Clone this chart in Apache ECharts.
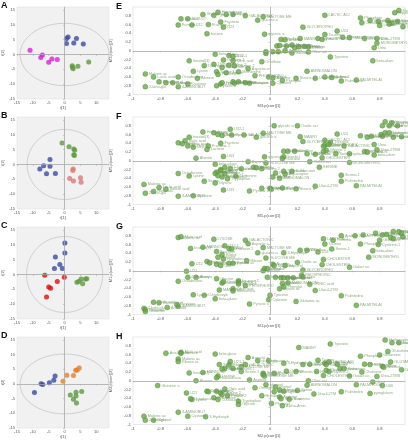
<!DOCTYPE html>
<html><head><meta charset="utf-8">
<script src="https://cdn.jsdelivr.net/npm/echarts@6/dist/echarts.min.js"></script>
<style>html,body{margin:0;padding:0;background:#fff}#c{width:408px;height:440px}</style>
</head><body><div id="c"></div>
<script>
// ---- Score plots (t[1], t[2]) ----
const aMagenta = [[-10.9,1.4],[-7.0,-0.2],[-7.5,-1.0],[-4.0,-1.5],[-5.0,-2.6],[-2.3,-1.7]];
const aBlue = [[1.1,5.9],[0.6,5.4],[3.75,5.4],[0.6,3.7],[2.9,3.9],[5.9,3.5]];
const aGreen = [[2.4,-3.8],[2.5,-4.3],[2.7,-4.8],[4.2,-4.0],[7.6,-2.5]];
const bGreen = [[-0.8,7.2],[1.4,6.0],[2.9,5.2],[3.2,4.8],[2.9,3.3],[3.1,3.0]];
const bBlue = [[-4.6,1.7],[-6.6,-0.4],[-4.6,-0.6],[-7.8,-1.5],[-5.7,-3.1],[-2.9,-3.0]];
const bPink = [[2.7,-1.5],[2.6,-2.0],[1.6,-4.7],[2.8,-5.6],[5.0,-4.5],[5.2,-6.0]];
const cBlue = [[0.1,10.6],[0.1,7.2],[-2.9,5.9],[-1.5,3.4],[-3.2,2.0],[-0.7,2.0]];
const cRed = [[-6.25,-0.3],[-0.1,-0.9],[-2.3,-2.4],[-5.0,-4.2],[-4.4,-4.6],[-5.7,-7.6]];
const cGreen = [[3.9,-2.6],[4.5,-2.4],[5.2,-1.5],[6.6,-1.5],[7.0,-1.4],[5.7,-3.1]];
const dBlue = [[-9.5,-2.9],[-7.4,0.1],[-6.9,-0.2],[-4.8,0.4],[-3.4,1.3],[-3.0,2.7]];
const dOrange = [[-0.5,0.9],[0.7,3.0],[2.8,2.9],[3.5,4.7],[4.0,4.8],[4.6,5.4]];
const dGreen = [[1.8,-3.8],[3.6,-2.8],[5.4,-2.6],[3.6,-4.1],[2.8,-5.2],[3.75,-6.5]];
// Hotelling T2 ellipse semi-axes (t[1], t[2])
const ellipseRx = [14, 11.8, 12, 14];
const ellipseRy = [10.5, 11.8, 12.8, 10.2];

// ---- Loading plots: [p(corr)[1], p(corr)[2], name] ----
const eLoadings = [
[-0.49,0.83,'Glycolic a'],[-0.38,0.88,'Heptadecan'],[-0.41,0.81,'Pyruvic ac'],[-0.32,0.83,'Ribitol'],[-0.27,0.83,'Xylitol'],
[-0.18,0.80,'GALACTONIC'],[-0.05,0.78,'MALTOSE ME'],[0.40,0.81,'LACTIC ACI'],[0.94,0.92,'Margaric'],[0.91,0.87,'Hippuric'],
[-0.65,0.73,'Succinic'],[-0.60,0.73,'SCYLLO'],[-0.09,0.70,'glucose a'],[0.66,0.75,'Phosphate'],[0.73,0.69,'Glutamine'],
[0.67,0.64,'Creatinine'],[0.79,0.67,'Cysteine-1'],[0.86,0.69,'Glutamine 1'],[0.93,0.67,'Stearine'],[0.89,0.63,'Proline'],
[0.97,0.55,'Valine'],[0.80,0.58,'Leucine'],[0.87,0.61,'Isoleucine'],[-0.36,0.66,'Fructose'],[-0.45,0.60,'Fructose 2'],
[-0.67,0.59,'Fumaric'],[-0.57,0.59,'U12'],[-0.34,0.54,'U23'],[0.24,0.54,'GLYCEROPHO'],[-0.46,0.39,'lactose'],
[-0.04,0.38,'glyceric a'],[0.40,0.37,'Taurine'],[0.49,0.45,'U24'],[0.53,0.31,'Threonic'],[0.58,0.30,'GALACTINIC'],
[0.69,0.28,'MYO-INOS'],[0.78,0.28,'Urea-2TMS'],[0.35,0.28,'Glycine 3'],[0.38,0.26,'PHOSPHORIC'],[0.22,0.28,'MANNY'],
[0.08,0.26,'Citrulline'],[0.11,0.25,'Arabitol'],[0.78,0.17,'MONOMETHYL'],[0.76,0.07,'Urea'],[0.05,0.11,'Aconitic'],
[0.07,0.12,'GLUCOSE ME'],[0.12,0.11,'Oxalic ac'],[0.16,0.13,'Mannose'],[0.18,0.07,'CHOLESTERI'],[0.21,0.09,'Galact ac'],
[0.25,0.10,'Ribose'],[0.28,0.09,'Hexose'],[0.06,-0.02,'Glucose'],[0.11,0.0,'Sorbitol'],[0.16,-0.05,'Inositol'],
[-0.03,-0.02,'glycerol'],[-0.03,-0.06,'Serine'],[0.02,-0.02,'Aspartic'],[0.28,-0.03,'Oleic aci'],[0.44,-0.14,'Tyrosine'],
[0.75,-0.23,'beta-alani'],[-0.40,-0.08,'beta-gluco'],[-0.30,-0.11,'U21-1'],[-0.27,-0.13,'U32-1'],[-0.59,-0.23,'Inositol(3)'],
[-0.34,-0.21,'Glucose 2'],[-0.27,-0.23,'Citric acid'],[-0.48,-0.34,'D-Hydroxy'],[-0.41,-0.31,'Threonine'],[-0.30,-0.33,'Valine 2'],
[-0.26,-0.34,'Leucine 2'],[-0.06,-0.25,'Ornithine'],[-0.35,-0.38,'Phosphate 2'],[-0.16,-0.41,'Aspartic a'],[-0.56,-0.47,'Lysine'],
[-0.39,-0.48,'Serine 1'],[-0.32,-0.50,'Glycine'],[-0.38,-0.54,'Proline 2'],[-0.23,-0.48,'Methionine'],[-0.91,-0.53,'Malonic ac'],
[-0.85,-0.60,'Lactic acid'],[-0.67,-0.60,'Octadecano'],[-0.53,-0.63,'Alanine'],[-0.81,-0.71,'Ribose acid'],[-0.76,-0.73,'Malic acid'],
[-0.71,-0.73,'Nonanoic'],[-0.91,-0.82,'2-keto-glu'],[-0.67,-0.82,'4-AMINOBUT'],[-0.60,-0.76,'Cysteine'],[-0.39,-0.80,'Pyruvic a'],
[-0.36,-0.76,'U33'],[-0.35,-0.73,'Tryptophan'],[-0.27,-0.71,'Histidine'],[-0.23,-0.71,'Arginine'],[-0.18,-0.73,'Asparagine'],
[-0.15,-0.74,'Glutarate'],[-0.26,-0.74,'Putrescine'],[-0.11,-0.57,'PHOSPHORO'],[-0.01,-0.60,'Glycerol'],[0.02,-0.62,'Adenine'],
[0.02,-0.74,'Cytosine'],[0.09,-0.68,'Phenylal'],[0.19,-0.63,'Stearic ac'],[0.33,-0.63,'Uracil-2TM'],[0.40,-0.60,'Alpha-Amin'],
[0.45,-0.61,'Serine-1'],[0.52,-0.69,'Palmitoleic'],[0.63,-0.67,'PALMITELAI'],[0.27,-0.47,'AMINOMALON']
];
const fLoadings = [
[0.84,0.89,'Hydroxypro'],[0.89,0.87,'Stearine'],[0.93,0.80,'Proline'],[0.87,0.80,'Valine'],[0.82,0.80,'Glutamine'],
[0.03,0.80,'glycolic a'],[0.20,0.80,'Oxalic aci'],[-0.29,0.72,'U32-1'],[-0.49,0.66,'Heptadecan'],[-0.41,0.64,'Ribitol'],
[-0.38,0.60,'Xylitol'],[-0.35,0.58,'Succinic'],[-0.28,0.59,'Pyruvic ac'],[-0.19,0.59,'GALACTONIC'],[-0.10,0.54,'glucose a'],
[-0.05,0.63,'MALTOSE ME'],[-0.59,0.54,'Inositol(3)'],[0.22,0.55,'MANNY'],[0.24,0.44,'GLYCEROPHO'],[0.40,0.47,'LACTIC ACI'],
[0.49,0.61,'U24'],[0.44,0.42,'Threonic'],[0.66,0.57,'Phosphate'],[0.71,0.54,'Creatinine'],[0.74,0.56,'Cysteine-1'],
[0.81,0.60,'Leucine'],[0.84,0.64,'Glutamine 1'],[0.87,0.64,'Isoleucine'],[0.82,0.56,'Margaric'],[0.90,0.54,'Hippuric'],
[0.96,0.55,'Glycine 3'],[-0.62,0.46,'Malic acid'],[-0.67,0.41,'Fumaric'],[-0.64,0.39,'Aspartic acid'],[-0.60,0.34,'SCYLLO'],
[-0.56,0.31,'U12'],[-0.45,0.34,'Fructose 2'],[-0.46,0.26,'Lactose'],[-0.36,0.40,'Fructose'],[0.40,0.36,'Taurine'],
[0.39,0.33,'Arabitol'],[0.43,0.37,'PHOSPHORIC'],[0.54,0.34,'GALACTINIC'],[0.76,0.37,'Urea'],[0.78,0.25,'Urea-2TMS'],
[0.69,0.21,'MYO-INOS'],[0.71,0.20,'Ribonic'],[0.58,0.16,'galacti ac'],[0.76,0.13,'beta-alani'],[0.10,0.22,'Aconitic'],
[0.13,0.22,'Mannose'],[0.18,0.22,'Citrulline'],[0.41,0.24,'Glycine 2'],[0.39,0.21,'Hexose'],[0.27,0.16,'MANNITOL'],
[0.33,0.15,'Ribose'],[0.48,0.16,'Sorbitol'],[-0.34,0.10,'U03'],[-0.54,0.06,'Alanine'],[-0.04,0.09,'glycerol'],
[0.10,0.09,'Inositol'],[0.09,0.05,'Glucose'],[-0.16,-0.02,'Aspartic'],[-0.03,-0.05,'GLUCOSE ME'],[0.29,-0.02,'OLEIC aci'],
[0.58,-0.04,'MONOMETHYL'],[0.38,0.07,'CHOLESTERI'],[-0.40,-0.08,'beta-gluco'],[-0.33,-0.15,'U21-1'],[-0.36,-0.20,'Glucose 2'],
[-0.36,-0.23,'Valine 2'],[-0.39,-0.26,'Leucine 2'],[-0.40,-0.29,'Methionine'],[-0.33,-0.29,'Proline 2'],[-0.29,-0.18,'Citric acid'],
[-0.21,-0.18,'Ornithine'],[-0.12,-0.15,'Histidine'],[-0.10,-0.16,'Arginine'],[-0.06,-0.18,'Serine 2'],[0.36,-0.15,'SERINE'],
[-0.67,-0.29,'Octadecano'],[-0.59,-0.35,'Lysine'],[-0.38,-0.34,'D-Hydroxy'],[-0.35,-0.37,'Phosphate 2'],[-0.31,-0.41,'Tryptophan'],
[-0.25,-0.35,'Threonine'],[0.02,-0.37,'Adenine'],[0.04,-0.28,'Phenylal'],[0.10,-0.24,'Putrescine'],[0.11,-0.30,'Asparagine'],
[0.16,-0.24,'D-Glucuron'],[0.07,-0.40,'AMINOMALON'],[0.52,-0.33,'Serine-1'],[-0.48,-0.47,'Serine'],[-0.40,-0.51,'Glycine'],
[-0.92,-0.54,'Malonic ac'],[0.52,-0.47,'Palmitoleic'],[0.63,-0.57,'PALMITELAI'],[-0.81,-0.61,'Lactic acid'],[-0.76,-0.65,'Ribose acid'],
[-0.85,-0.70,'Nonanoic'],[-0.91,-0.74,'2-keto-glu'],[-0.67,-0.81,'4-AMINOBUT'],[-0.56,-0.80,'Cysteine'],[-0.34,-0.67,'U33'],
[-0.15,-0.69,'Pyruvic a'],[-0.06,-0.63,'Glutarate'],[0.0,-0.63,'Cytosine'],[0.01,-0.65,'Alpha-Amin'],[0.09,-0.62,'Glycerol'],
[0.19,-0.64,'Stearic a'],[0.33,-0.58,'Uracil-2TM']
];
const gLoadings = [
[-0.67,0.76,'Malonic ac'],[-0.65,0.78,'Malic acid'],[-0.41,0.72,'LYXOSE'],[-0.18,0.70,'GALACTONIC'],[-0.16,0.62,'Aspartic a'],
[-0.05,0.53,'MALTOSE ME'],[-0.58,0.51,'Inositol(3)'],[-0.49,0.54,'MANNOSE'],[-0.39,0.44,'Fructose'],[-0.33,0.57,'U32-1'],
[-0.30,0.51,'Xylitol'],[-0.28,0.50,'Fructose 2'],[-0.35,0.37,'Ribitol'],[-0.38,0.31,'Succinic'],[-0.34,0.27,'Heptadecan'],
[-0.09,0.41,'glucose a'],[0.10,0.41,'3-Hydroxyb'],[0.22,0.47,'MANNY'],[0.27,0.47,'Citrulline'],[0.35,0.43,'U24'],
[0.45,0.50,'Serine-1'],[0.39,0.73,'LACTIC ACI'],[0.46,0.70,'Threonic'],[0.52,0.80,'Arabitol'],[0.62,0.80,'GALACTINIC'],
[0.68,0.82,'Creatinine'],[0.77,0.86,'Leucine'],[0.82,0.82,'Isoleucine'],[0.85,0.83,'Valine'],[0.90,0.90,'Hippuric'],
[0.94,0.89,'Margaric'],[0.88,0.76,'Proline'],[0.90,0.73,'Glutamine 1'],[0.97,0.78,'Stearine'],[0.96,0.86,'Hydroxypro'],
[0.80,0.70,'Glutamine'],[0.66,0.61,'Phosphate'],[0.79,0.60,'Cysteine-1'],[0.40,0.61,'Taurine'],[0.75,0.46,'beta-alani'],
[0.72,0.31,'MONOMETHYL'],[-0.57,0.16,'U12'],[-0.46,0.21,'Fumaric'],[-0.44,0.18,'Lactose'],[-0.39,0.15,'SCYLLO'],
[-0.36,0.12,'U23'],[-0.30,0.17,'Glycolic a'],[-0.27,0.17,'Pyruvic ac'],[-0.17,0.23,'Ribose'],[-0.03,0.29,'GLUCOSE ME'],
[0.02,0.15,'Aconitic'],[0.03,0.12,'Mannose'],[0.11,0.12,'Glycerol'],[0.20,0.19,'Oxalic ac'],[0.39,0.26,'CHOLESTER'],
[0.38,0.14,'CHOLESTERI'],[-0.61,-0.01,'U21'],[-0.05,0.0,'glycerol'],[-0.04,0.05,'Sorbitol'],[-0.02,0.05,'Glucose'],
[0.58,0.08,'Galact ac'],[0.24,0.02,'GLYCEROPHO'],[-0.60,-0.15,'D-Hydroxy'],[-0.54,-0.15,'Alanine'],[-0.67,-0.24,'Octadecano'],
[-0.39,-0.18,'Glycine'],[-0.35,-0.28,'Valine 2'],[-0.34,-0.25,'Ornithine'],[-0.23,-0.23,'Leucine 2'],[-0.23,-0.26,'Serine 1'],
[-0.23,-0.30,'Histidine'],[-0.02,-0.15,'Inositol'],[0.04,-0.15,'Hexose'],[0.08,-0.16,'Glucose 2'],[0.10,-0.16,'Arginine'],
[0.13,-0.16,'Asparagine'],[0.17,-0.16,'Oleic aci'],[0.23,-0.10,'PHOSPHORIC'],[0.24,-0.14,'Urea'],[-0.37,-0.44,'MANNITOL'],
[-0.27,-0.41,'Citric acid'],[-0.27,-0.46,'Methionine'],[-0.18,-0.34,'PHOSPHORO'],[0.09,-0.29,'Adenine'],[0.10,-0.37,'Phenylal'],
[0.07,-0.41,'Stearic ac'],[0.13,-0.28,'AMINOMALON'],[0.29,-0.31,'ORNIC acid'],[0.33,-0.45,'Uracil-2TM'],[-0.56,-0.55,'Lysine'],
[-0.48,-0.56,'O-hydroxyb'],[-0.40,-0.64,'beta-gluco'],[0.0,-0.56,'Tyrosine'],[-0.01,-0.66,'Cytosine'],[0.19,-0.70,'Glutamic ac'],
[0.52,-0.57,'Palmitoleic'],[-0.15,-0.76,'Pyruvic a'],[-0.85,-0.72,'Lactic acid'],[-0.81,-0.73,'Ribose acid'],[-0.75,-0.84,'Arachidic'],
[-0.67,-0.81,'4-AMINOBUT'],[-0.68,-0.77,'Cysteine'],[-0.92,-0.86,'2-keto-glu'],[-0.91,-0.89,'Nonanoic'],[-0.91,-0.93,'Glutarate'],
[0.63,-0.79,'PALMITELAI']
];
const hLoadings = [
[0.84,0.93,'Hydroxypro'],[0.89,0.87,'Hippuric'],[0.94,0.87,'Margaric'],[0.44,0.84,'Tyrosine'],[0.21,0.76,'MANNY'],
[-0.76,0.63,'Arachidonic'],[-0.65,0.65,'Malic acid'],[-0.65,0.63,'Fumaric'],[-0.67,0.50,'Malonic ac'],[-0.67,0.44,'Ribose ac'],
[-0.40,0.61,'keto-gluco'],[-0.16,0.53,'Aspartic a'],[-0.29,0.44,'U21-1'],[-0.09,0.46,'glucose a'],[-0.01,0.46,'glyceric a'],
[0.66,0.56,'Phosphate'],[0.80,0.59,'Glutamine'],[0.86,0.67,'Glutamine 1'],[0.88,0.43,'GLUTAMINE'],[-0.37,0.37,'Xylitol'],
[-0.30,0.36,'Ribitol'],[-0.18,0.37,'GALACTONIC'],[-0.21,0.32,'MALTOSE ME'],[0.10,0.40,'3-Hydroxyb'],[0.24,0.37,'Citrulline'],
[0.29,0.38,'MANNITOL'],[0.35,0.47,'Taurine'],[0.43,0.43,'LACTIC ACI'],[0.49,0.38,'U24'],[0.51,0.28,'Threonic'],
[0.40,0.40,'PHOSPHORIC'],[0.41,0.37,'Creatinine'],[0.69,0.38,'Leucine'],[0.73,0.37,'Isoleucine'],[0.82,0.33,'Valine'],
[0.96,0.25,'Glycine 3'],[0.83,0.31,'Arabitol'],[-0.33,0.28,'Succinic'],[-0.35,0.27,'Fructose'],[-0.27,0.28,'Fructose 2'],
[-0.21,0.21,'Serine 1'],[-0.59,0.18,'Inositol(3)'],[-0.49,0.19,'MANNOSE'],[-0.38,0.11,'Lactose'],[-0.05,0.17,'Sorbitol'],
[-0.05,0.14,'Glucose'],[-0.04,0.11,'GLUCOSE ME'],[0.03,0.17,'Mannose'],[0.12,0.22,'Oxalic a'],[0.19,0.21,'Aconitic ac'],
[0.34,0.21,'Hexose'],[0.41,0.24,'Ribose'],[0.43,0.21,'Glycine 2'],[0.54,0.28,'Galactonic'],[0.67,0.20,'Cholester'],
[0.39,0.12,'CHOLESTERI'],[0.58,0.11,'Galact ac'],[0.78,0.10,'Urea-2TMS'],[-0.54,0.0,'Alanine'],[-0.39,0.07,'Heptadecan'],
[-0.15,0.02,'Aspartic'],[0.28,0.0,'Oleic aci'],[0.75,-0.03,'Urea'],[0.82,-0.11,'U06'],[-0.82,-0.11,'Glutamic a'],
[-0.03,-0.09,'glycerol'],[0.04,-0.14,'Inositol'],[0.07,-0.21,'Adenine'],[0.10,-0.24,'Putrescine'],[0.03,-0.25,'Asparagine'],
[0.20,-0.22,'Serine'],[0.27,-0.10,'AMINOMALON'],[0.63,-0.09,'PALMITOLEI'],[-0.33,-0.19,'Oleic acid'],[-0.11,-0.16,'Ornithine'],
[-0.46,-0.24,'D-Hydroxy'],[-0.45,-0.25,'Threonine 2'],[-0.39,-0.24,'Valine 2'],[-0.36,-0.28,'Leucine 2'],[-0.35,-0.32,'Methionine'],
[-0.31,-0.34,'Proline 2'],[-0.61,-0.28,'U21'],[0.32,-0.30,'Uracil-2TM'],[0.52,-0.25,'Palmitoleic'],[0.73,-0.29,'pyroglutam'],
[-0.06,-0.34,'Histidine'],[0.07,-0.37,'Arginine'],[0.08,-0.41,'Stearic ac'],[0.14,-0.42,'Threonine'],[0.01,-0.52,'Phenylal'],
[0.09,-0.57,'Alpha-Amin'],[-0.57,-0.43,'Lysine'],[-0.58,-0.41,'Octadecano'],[-0.41,-0.39,'Phosphate 2'],[-0.38,-0.43,'O-Glucose'],
[-0.23,-0.47,'Tryptophan'],[-0.23,-0.54,'Glycine'],[-0.67,-0.72,'4-AMINOBUT'],[-0.60,-0.81,'Cysteine'],[-0.47,-0.82,'3-Hydroxyb'],
[-0.92,-0.81,'Malonic ac'],[-0.91,-0.90,'2-keto-glu'],[-0.85,-0.90,'Glycerol']
];
const loadXNames = ['M3.p(corr)[1]','M5.p(corr)[1]','M1.p(corr)[1]','M2.p(corr)[1]'];
const loadYNames = ['M3.p(corr)[2]','M5.p(corr)[2]','M1.p(corr)[2]','M2.p(corr)[2]'];
const panelLetters = ['A','B','C','D','E','F','G','H'];

const COL = {green:'#5f9e3d', blue:'#3a4ca6', magenta:'#dd1fdd', pink:'#e07b7b', red:'#e00f0f', orange:'#e8812a'};
const scoreGroups = [
  [[aMagenta,COL.magenta],[aBlue,COL.blue],[aGreen,COL.green]],
  [[bGreen,COL.green],[bBlue,COL.blue],[bPink,COL.pink]],
  [[cBlue,COL.blue],[cRed,COL.red],[cGreen,COL.green]],
  [[dBlue,COL.blue],[dOrange,COL.orange],[dGreen,COL.green]]
];
const loadings = [eLoadings,fLoadings,gLoadings,hLoadings];

const FONT = 'Liberation Sans, Arial, sans-serif';
const tickText = {fontSize:4, color:'#555', fontFamily:FONT};
const option = {animation:false, grid:new Array(8), xAxis:new Array(8), yAxis:new Array(8), series:[], graphic:[]};
const zeroLine = {silent:true, symbol:'none', label:{show:false}, lineStyle:{color:'#b0b0b0', width:0.7, type:'solid'}, data:[{xAxis:0},{yAxis:0}]};

for (let i=0;i<4;i++){
  const top = 7 + 110*i;
  // score grid
  option.grid[i] = {left:17, top:top, width:92, height:92, show:true, backgroundColor:'#f1f1f1', borderColor:'#dedede', borderWidth:0.5};
  option.xAxis[i] = {gridIndex:i, type:'value', min:-15, max:14, interval:5, name:'t[1]', nameLocation:'middle', nameGap:7,
    nameTextStyle:{fontSize:4,color:'#555',fontFamily:FONT},
    axisLabel:Object.assign({margin:2, showMaxLabel:false}, tickText),
    axisLine:{lineStyle:{color:'#999', width:0.5}}, axisTick:{length:1.5, lineStyle:{color:'#999',width:0.5}}, splitLine:{show:false}};
  option.yAxis[i] = {gridIndex:i, type:'value', min:-15, max:16, interval:5, name:'t[2]', nameLocation:'middle', nameGap:9,
    nameTextStyle:{fontSize:4,color:'#555',fontFamily:FONT},
    axisLabel:Object.assign({margin:2, showMaxLabel:false}, tickText),
    axisLine:{show:true, lineStyle:{color:'#999', width:0.5}}, axisTick:{show:true,length:1.5, lineStyle:{color:'#999',width:0.5}}, splitLine:{show:false}};
  // ellipse
  option.series.push({type:'custom', xAxisIndex:i, yAxisIndex:i, silent:true, z:1,
    data:[[0,0,ellipseRx[i],ellipseRy[i]]],
    renderItem:function(params, api){
      const cx=api.value(0), cy=api.value(1), rx=api.value(2), ry=api.value(3);
      const pts=[];
      for(let k=0;k<=120;k++){const t=k/120*Math.PI*2; pts.push(api.coord([cx+rx*Math.cos(t), cy+ry*Math.sin(t)]));}
      return {type:'polyline', shape:{points:pts}, style:{stroke:'#c9c9c9', lineWidth:0.9, fill:null}};
    },
    markLine:zeroLine});
  scoreGroups[i].forEach(g=>{
    option.series.push({type:'scatter', xAxisIndex:i, yAxisIndex:i, data:g[0], symbolSize:5, z:3,
      itemStyle:{color:g[1], borderColor:'rgba(0,0,0,0.15)', borderWidth:0.3}});
  });

  // loading grid
  const gi = 4+i;
  option.grid[gi] = {left:133, top:top, width:272, height:87.5, show:true, backgroundColor:'#ffffff', borderColor:'#d0d0d0', borderWidth:0.5};
  option.xAxis[gi] = {gridIndex:gi, type:'value', min:-1, max:0.985, interval:0.2, name:loadXNames[i], nameLocation:'middle', nameGap:9,
    nameTextStyle:{fontSize:4,color:'#555',fontFamily:FONT},
    axisLabel:Object.assign({margin:2, showMaxLabel:false, formatter:v=>String(Math.round(v*10)/10)}, tickText),
    axisLine:{lineStyle:{color:'#999', width:0.5}}, axisTick:{length:1.5, lineStyle:{color:'#999',width:0.5}}, splitLine:{show:false}};
  option.yAxis[gi] = {gridIndex:gi, type:'value', min:-1, max:1, interval:0.2, name:loadYNames[i], nameLocation:'middle', nameGap:9,
    nameTextStyle:{fontSize:4,color:'#555',fontFamily:FONT},
    axisLabel:Object.assign({margin:2, showMaxLabel:false, formatter:v=>String(Math.round(v*10)/10)}, tickText),
    axisLine:{show:true, lineStyle:{color:'#999', width:0.5}}, axisTick:{show:true,length:1.5, lineStyle:{color:'#999',width:0.5}}, splitLine:{show:false}};
  option.series.push({type:'scatter', xAxisIndex:gi, yAxisIndex:gi, data:loadings[i], symbolSize:5, z:3,
    encode:{x:0, y:1},
    itemStyle:{color:'#69a94a', borderColor:'#4b8a2e', borderWidth:0.5},
    label:{show:true, position:'right', distance:1, fontSize:3.8, color:'#6f9460', fontFamily:FONT, formatter:p=>p.value[2]},
    markLine:zeroLine});

  option.graphic.push({type:'text', left:1, top:top-6, style:{text:panelLetters[i], font:'bold 9px '+FONT, fill:'#111'}});
  option.graphic.push({type:'text', left:116, top:top-5, style:{text:panelLetters[4+i], font:'bold 9px '+FONT, fill:'#111'}});
}

const chart = echarts.init(document.getElementById('c'), null, {renderer:'canvas'});
chart.setOption(option);
</script>
</body></html>
